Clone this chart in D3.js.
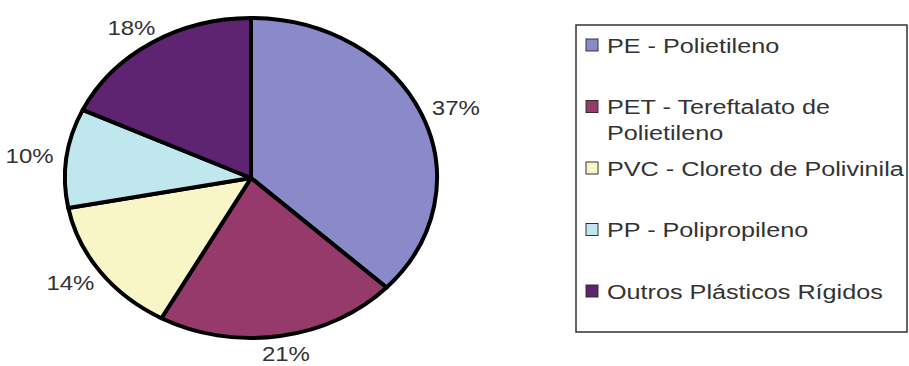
<!DOCTYPE html>
<html>
<head>
<meta charset="utf-8">
<script src="https://cdn.jsdelivr.net/npm/d3@7"></script>
<style>
  html, body { margin: 0; padding: 0; background: #fff; }
  svg { display: block; }
  text { font-family: "Liberation Sans", Arial, sans-serif; fill: #333; }
</style>
</head>
<body>
<svg id="chart" width="909" height="366"></svg>
<script>
// ---- data ----
const categories = ["PE - Polietileno", "PET - Tereftalato de Polietileno", "PVC - Cloreto de Polivinila", "PP - Polipropileno", "Outros Plásticos Rígidos"];
const legendLines = [["PE - Polietileno"], ["PET - Tereftalato de", "Polietileno"], ["PVC - Cloreto de Polivinila"], ["PP - Polipropileno"], ["Outros Plásticos Rígidos"]];
const values = [37, 21, 14, 10, 18];
const valueLabels = ["37%", "21%", "14%", "10%", "18%"];
const colors = ["#8a8acb", "#963a6c", "#f8f6c6", "#c0e7ee", "#5e2371"];

// ---- layout ----
const svg = d3.select("#chart");
const cx = 251, cy = 178, ry = 160, rx = 186;
const sx = rx / ry;
const textStretch = 1.2;
const labelKx = 1.2, labelKy = 1.11;

const pie = d3.pie().sort(null).value(d => d);
const arcs = pie(values);
const arc = d3.arc().innerRadius(0).outerRadius(ry);

const g = svg.append("g").attr("transform", `translate(${cx},${cy}) scale(${sx},1)`);
g.selectAll("path.slice")
  .data(arcs)
  .join("path")
  .attr("class", "slice")
  .attr("d", arc)
  .attr("fill", (d, i) => colors[i])
  .attr("stroke", "#000")
  .attr("stroke-width", 4)
  .attr("stroke-linejoin", "round")
  .attr("vector-effect", "non-scaling-stroke");

// percentage labels
svg.selectAll("text.pct")
  .data(arcs)
  .join("text")
  .attr("class", "pct")
  .attr("transform", d => {
    const a = (d.startAngle + d.endAngle) / 2;
    const x = cx + rx * Math.sin(a) * labelKx;
    const y = cy - ry * Math.cos(a) * labelKy;
    return `translate(${x},${y}) scale(${textStretch},1)`;
  })
  .attr("text-anchor", "middle")
  .attr("dy", "0.36em")
  .style("font-size", "20px")
  .text((d, i) => valueLabels[i]);

// ---- legend ----
const lx = 576, ly = 25, lw = 331, lh = 307;
svg.append("rect")
  .attr("x", lx).attr("y", ly).attr("width", lw).attr("height", lh)
  .attr("fill", "#fff").attr("stroke", "#333").attr("stroke-width", 1.5);

const rowY = d3.scaleLinear().domain([0, categories.length - 1]).range([ly + 20, ly + 266]);
const lineGap = 26;
const item = svg.selectAll("g.leg")
  .data(categories)
  .join("g")
  .attr("class", "leg")
  .attr("transform", (d, i) => `translate(${lx + 10},${rowY(i)})`);

item.append("rect")
  .attr("x", 0).attr("y", -6).attr("width", 12).attr("height", 12)
  .attr("fill", (d, i) => colors[i])
  .attr("stroke", "#333").attr("stroke-width", 1);

item.each(function(d, i) {
  const gi = d3.select(this);
  legendLines[i].forEach((line, j) => {
    gi.append("text")
      .attr("transform", `translate(21,${j * lineGap}) scale(${textStretch},1)`)
      .attr("dy", "0.36em")
      .style("font-size", "21px")
      .text(line);
  });
});
</script>
</body>
</html>
